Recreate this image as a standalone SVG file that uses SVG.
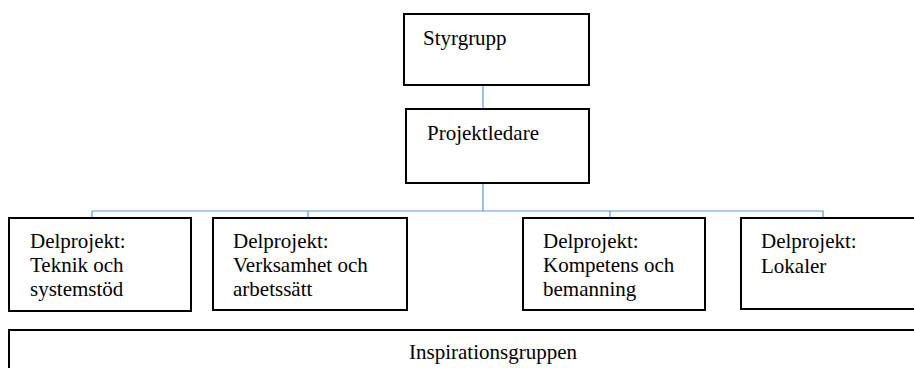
<svg xmlns="http://www.w3.org/2000/svg" width="914" height="368" viewBox="0 0 914 368">
<style>
.box{fill:#fff;stroke:#000;stroke-width:2}
.t{font-family:'Liberation Serif','Times New Roman',Times,serif;font-size:21px;fill:#000}
.c{fill:none;stroke:#5b9bd5;stroke-width:1.2}
</style>
<rect width="914" height="368" fill="#fff"/>
<g id="connectors">
<line class="c" x1="483" y1="85" x2="483" y2="109"/>
<line class="c" x1="483" y1="183" x2="483" y2="211"/>
<polyline class="c" points="92,218 92,211 823,211 823,218"/>
<line class="c" x1="308" y1="211" x2="308" y2="218"/>
<line class="c" x1="610" y1="211" x2="610" y2="218"/>
</g>
<g id="styrgrupp">
<rect class="box" x="404" y="14" width="185" height="71"/>
<text class="t" x="423" y="45">Styrgrupp</text>
</g>
<g id="projektledare">
<rect class="box" x="406" y="109" width="183" height="74"/>
<text class="t" x="427" y="140">Projektledare</text>
</g>
<g id="teknik">
<rect class="box" x="9" y="218" width="182" height="93"/>
<text class="t" x="30" y="248">Delprojekt:<tspan x="30" y="272">Teknik och</tspan><tspan x="30" y="296">systemstöd</tspan></text>
</g>
<g id="verksamhet">
<rect class="box" x="213" y="218" width="194" height="92"/>
<text class="t" x="233" y="248">Delprojekt:<tspan x="233" y="272">Verksamhet och</tspan><tspan x="233" y="296">arbetssätt</tspan></text>
</g>
<g id="kompetens">
<rect class="box" x="523" y="218" width="182" height="92"/>
<text class="t" x="543" y="248">Delprojekt:<tspan x="543" y="272">Kompetens och</tspan><tspan x="543" y="296">bemanning</tspan></text>
</g>
<g id="lokaler">
<rect class="box" x="741" y="218" width="190" height="91"/>
<text class="t" x="761" y="248">Delprojekt:<tspan x="761" y="273">Lokaler</tspan></text>
</g>
<g id="inspirationsgruppen">
<rect class="box" x="9" y="330" width="930" height="60"/>
<text class="t" x="409" y="359">Inspirationsgruppen</text>
</g>
</svg>
